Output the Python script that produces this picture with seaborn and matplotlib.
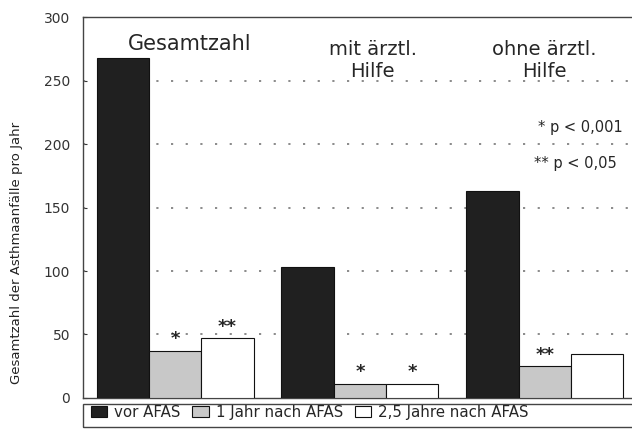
import pandas as pd
import numpy as np
import matplotlib
matplotlib.use("Agg")
import matplotlib.pyplot as plt
import seaborn as sns
from matplotlib.patches import Rectangle

# ============================================
# DATA
# ============================================

gruppen = ["Gesamtzahl", "mit ärztl.\nHilfe", "ohne ärztl.\nHilfe"]
serien = ["vor AFAS", "1 Jahr nach AFAS", "2,5 Jahre nach AFAS"]

vor_afas = [268, 103, 163]
ein_jahr = [37, 11, 25]
zweieinhalb_jahre = [47, 11, 35]

# significance marks per series (same order as gruppen)
sterne_vor = ["", "", ""]
sterne_ein = ["*", "*", "**"]
sterne_zwei = ["**", "*", ""]

farben = ["#202020", "#c8c8c8", "#ffffff"]

df = pd.DataFrame({
    "Gruppe": gruppen * 3,
    "Serie": [serien[0]] * 3 + [serien[1]] * 3 + [serien[2]] * 3,
    "Wert": vor_afas + ein_jahr + zweieinhalb_jahre,
})

# ============================================
# PLOT
# ============================================

sns.set_style("white")
plt.rcParams['font.family'] = ['DejaVu Sans']

fig = plt.figure(figsize=(6.32, 4.33), dpi=100)
ax = fig.add_axes([0.131, 0.081, 0.877, 0.879])

sns.barplot(data=df, x="Gruppe", y="Wert", hue="Serie", palette=farben,
            width=0.85, edgecolor="#111111", linewidth=0.8, saturation=1,
            legend=False, ax=ax, zorder=3)

ax.set_xlim(-0.5, 2.5)
ax.set_ylim(0, 300)
ax.set_yticks(np.arange(0, 301, 50))
ax.set_xticks([])
ax.set_xlabel("")
ax.set_ylabel("Gesamtzahl der Asthmaanfälle pro Jahr", fontsize=9.5, color="#222222")
ax.yaxis.set_label_coords(-0.108, 0.38)
ax.tick_params(axis="y", labelsize=10, length=3, direction="in", left=True,
               colors="#333333", pad=9)
for sp in ax.spines.values():
    sp.set_color("#444444")
    sp.set_linewidth(1.0)

# dotted grid
for yv in np.arange(50, 300, 50):
    ax.axhline(yv, color="#777777", linestyle=(0, (1.3, 7.5)), linewidth=1.2, zorder=1)

# group titles
ax.text(0.08, 279, gruppen[0], ha="center", va="center", fontsize=15)
ax.text(1.07, 266, gruppen[1], ha="center", va="center", fontsize=14, linespacing=1.2)
ax.text(2.0, 266, gruppen[2], ha="center", va="center", fontsize=14, linespacing=1.2)

# stars above bars
for cont, sterne in zip(ax.containers, [sterne_vor, sterne_ein, sterne_zwei]):
    for bar, s in zip(cont, sterne):
        if s:
            ax.text(bar.get_x() + bar.get_width() / 2, bar.get_height() + 2, s,
                    ha="center", va="bottom", fontsize=13, fontweight="bold")

# p-value key
ax.text(2.42, 213, "* p < 0,001", ha="right", va="center", fontsize=10.5)
ax.text(2.39, 185, "** p < 0,05", ha="right", va="center", fontsize=10.5)

# legend at bottom
handles = [Rectangle((0, 0), 1, 1, facecolor=c, edgecolor="#111111", linewidth=0.8)
           for c in farben]
leg = fig.legend(handles, serien, loc="lower left", bbox_to_anchor=(0.134, 0.017),
                 ncol=3, frameon=False, fontsize=10.8, handlelength=1.1,
                 handleheight=0.75, handletextpad=0.45, columnspacing=0.8,
                 borderaxespad=0)
fig.add_artist(Rectangle((0.131, 0.014), 0.9, 0.054, transform=fig.transFigure,
                         facecolor="none", edgecolor="#444444", linewidth=1.0))

fig.savefig("out.png", dpi=100)
